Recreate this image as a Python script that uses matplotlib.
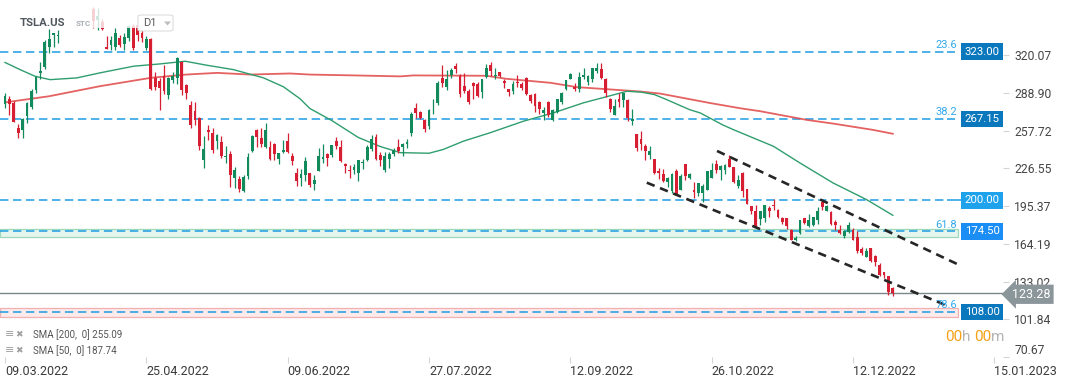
import matplotlib.pyplot as plt
from matplotlib.patches import Rectangle, FancyBboxPatch, Polygon

plt.rcParams['font.family'] = ['Roboto', 'DejaVu Sans']

# daily candles, 09.03.2022 .. 23.12.2022 (one entry per trading day)
opens = [
    # Mar
    280.0, 284.0, 280.5, 260.2, 258.4, 269.7, 277.0, 291.5, 305.0, 310.0, 326.6, 336.6, 336.0, 353.4, 367.5, 362.0, 363.5,
    # Apr
    360.4, 363.1, 380.5, 357.8, 349.4, 347.7, 326.8, 328.5, 327.0, 334.0, 329.2, 334.3, 344.0, 345.0, 338.4, 326.3, 333.0, 301.0, 299.0, 302.6,
    # May
    286.9, 299.8, 301.5, 314.0, 295.0, 279.0, 273.5, 268.0, 233.6, 257.8, 255.7, 249.0, 248.2, 235.5, 238.0, 218.3, 217.8, 208.0, 220.5, 241.1, 257.9,
    # Jun
    251.7, 244.2, 244.4, 246.4, 234.2, 240.1, 249.3, 236.7, 223.0, 218.2, 221.0, 222.7, 213.4, 224.4, 234.2, 238.0, 237.5, 249.4, 244.5, 230.5, 225.3,
    # Jul
    225.4, 223.0, 230.8, 233.3, 242.8, 252.1, 237.9, 225.3, 234.2, 238.6, 244.0, 244.0, 246.8, 255.6, 276.2, 272.8, 266.5, 261.2, 280.1, 280.9,
    # Aug
    301.3, 294.0, 304.0, 311.0, 302.7, 294.3, 290.7, 297.1, 296.4, 289.4, 301.8, 311.7, 303.0, 306.0, 299.0, 291.9, 290.7, 297.6, 296.5, 301.0, 286.8, 288.0, 281.0,
    # Sep
    272.6, 281.1, 266.2, 273.0, 281.0, 291.7, 300.5, 293.5, 292.4, 301.8, 298.0, 300.1, 306.9, 308.7, 300.4, 283.8, 271.0, 283.8, 282.7, 283.3, 265.4,
    # Oct
    255.0, 251.0, 245.2, 237.8, 234.5, 224.6, 221.8, 214.9, 207.5, 224.6, 208.9, 230.1, 218.5, 208.9, 206.1, 206.1, 208.9, 218.5, 230.4, 224.8, 225.4,
    # Nov
    234.2, 227.6, 211.6, 222.6, 209.4, 195.1, 191.0, 184.6, 185.4, 193.7, 196.4, 192.3, 185.4, 185.4, 175.8, 167.5, 173.0, 185.4, 178.5, 179.9, 184.0,
    # Dec
    198.4, 191.0, 190.1, 182.4, 175.8, 170.8, 173.9, 175.8, 170.0, 159.8, 153.2, 160.6, 154.3, 146.8, 140.8, 137.2, 127.5,
]
highs = [
    289.0, 286.0, 282.0, 263.0, 268.5, 281.0, 292.0, 302.6, 314.3, 332.6, 342.0, 338.2, 340.6, 366.3, 371.6, 368.3, 367.6,
    364.9, 383.3, 384.3, 359.7, 358.9, 349.5, 336.2, 336.0, 342.1, 337.0, 338.0, 345.0, 346.0, 348.0, 344.9, 336.2, 334.0, 306.0, 300.8, 311.7,
    302.0, 306.0, 318.5, 315.5, 296.0, 282.0, 281.0, 269.0, 253.2, 262.3, 259.6, 254.8, 253.2, 244.7, 240.5, 227.5, 219.9, 221.3, 239.6, 254.2, 259.2,
    259.5, 264.2, 248.8, 247.8, 239.6, 249.9, 255.5, 239.6, 226.7, 226.3, 235.7, 223.0, 220.9, 243.6, 246.8, 239.3, 246.0, 252.1, 249.9, 231.2, 229.5,
    230.2, 233.6, 234.6, 245.4, 254.4, 254.6, 239.8, 239.8, 240.3, 243.6, 250.5, 247.1, 250.7, 273.3, 280.8, 274.1, 267.3, 275.9, 284.2, 298.9,
    311.9, 307.5, 309.5, 313.6, 304.6, 305.2, 292.4, 297.5, 298.2, 300.2, 313.1, 314.7, 309.7, 306.5, 300.4, 292.4, 298.8, 303.6, 297.5, 302.0, 287.7, 288.5, 281.9,
    277.6, 282.3, 275.9, 283.8, 290.0, 299.9, 305.5, 297.4, 306.0, 309.1, 303.7, 309.8, 313.3, 313.8, 301.3, 284.5, 284.1, 288.7, 289.0, 283.7, 275.6,
    255.2, 257.5, 246.7, 244.6, 234.6, 226.9, 225.8, 219.3, 223.0, 226.3, 221.9, 230.5, 222.9, 215.6, 214.7, 213.5, 224.4, 230.6, 233.8, 228.9, 229.9,
    237.4, 227.9, 221.2, 223.8, 209.6, 195.6, 195.9, 191.0, 196.5, 195.7, 200.8, 192.6, 186.2, 185.7, 176.8, 170.9, 184.0, 185.6, 188.5, 186.4, 194.8,
    198.9, 196.3, 191.3, 183.7, 179.4, 175.2, 182.5, 177.4, 175.0, 161.6, 160.9, 161.0, 155.2, 148.5, 141.3, 137.5, 128.6,
]
lows = [
    276.0, 271.0, 264.5, 252.0, 252.0, 264.0, 275.5, 289.0, 300.0, 309.0, 321.6, 327.0, 330.3, 351.2, 357.7, 358.3, 358.7,
    355.4, 363.1, 361.5, 342.6, 340.5, 340.8, 324.9, 324.4, 324.4, 327.0, 324.6, 331.8, 324.3, 332.0, 331.3, 324.3, 291.6, 291.5, 275.0, 287.8,
    283.4, 296.7, 296.0, 287.0, 283.7, 260.0, 262.0, 242.0, 226.7, 249.8, 239.0, 242.9, 235.0, 231.0, 211.0, 210.0, 206.9, 206.9, 218.0, 240.0, 244.0,
    243.9, 243.3, 233.5, 233.3, 230.0, 239.0, 239.0, 229.0, 212.0, 212.2, 216.0, 211.0, 208.7, 224.0, 231.0, 228.4, 236.0, 242.6, 232.0, 222.3, 218.9,
    222.1, 216.2, 226.3, 232.2, 241.2, 233.6, 228.3, 223.8, 226.9, 236.9, 239.6, 236.5, 243.7, 253.5, 268.2, 267.4, 256.3, 258.9, 271.4, 278.6,
    293.7, 291.2, 301.0, 305.0, 285.5, 289.1, 279.4, 283.4, 285.8, 285.0, 301.0, 302.9, 300.0, 301.9, 292.5, 286.3, 287.9, 294.0, 291.6, 287.5, 280.7, 273.0, 271.8,
    266.1, 269.1, 265.7, 272.3, 279.8, 291.3, 300.4, 290.4, 289.3, 300.7, 295.6, 297.8, 305.6, 300.6, 285.8, 272.8, 270.3, 277.5, 277.6, 265.8, 262.5,
    241.0, 242.0, 233.3, 234.4, 222.0, 218.0, 215.0, 211.5, 206.2, 204.2, 208.5, 217.3, 217.8, 202.0, 203.8, 198.6, 208.5, 218.2, 222.9, 216.5, 221.9,
    227.3, 214.8, 210.1, 203.1, 196.7, 188.5, 177.1, 180.0, 182.6, 186.3, 192.1, 185.7, 180.9, 176.6, 167.5, 166.2, 172.5, 180.6, 178.0, 178.8, 180.6,
    191.8, 191.0, 179.8, 175.3, 172.2, 169.1, 173.4, 167.3, 156.9, 155.3, 153.0, 149.4, 145.8, 137.7, 135.9, 122.3, 121.0,
]
closes = [
    286.3, 279.4, 265.1, 255.5, 267.3, 280.1, 290.5, 301.8, 307.1, 331.3, 333.0, 338.0, 336.9, 363.9, 366.5, 364.7, 359.2,
    361.5, 381.8, 363.8, 348.6, 352.4, 341.8, 325.3, 332.5, 338.5, 328.3, 335.0, 344.0, 325.7, 336.3, 333.8, 333.0, 292.1, 293.8, 292.5, 290.3,
    301.0, 303.1, 317.5, 291.1, 288.6, 262.4, 266.7, 244.7, 242.7, 256.5, 241.5, 253.9, 236.6, 236.5, 221.3, 225.0, 209.4, 219.6, 235.9, 253.2, 252.8,
    246.8, 258.3, 234.5, 238.3, 238.9, 241.9, 239.7, 232.2, 215.7, 222.0, 233.0, 213.1, 216.8, 237.0, 236.1, 235.1, 245.7, 244.9, 232.7, 228.5, 224.5,
    227.3, 233.1, 231.7, 244.5, 250.8, 234.3, 233.1, 237.0, 238.3, 241.5, 240.5, 246.5, 248.5, 271.7, 272.2, 268.4, 258.9, 274.8, 280.9, 297.2,
    297.3, 300.6, 307.4, 308.6, 288.2, 290.4, 281.0, 294.4, 286.6, 300.0, 309.3, 306.6, 304.0, 302.9, 296.7, 289.9, 296.5, 297.1, 293.0, 288.1, 282.0, 277.7, 275.6,
    275.0, 270.2, 274.4, 283.4, 288.5, 299.7, 304.4, 292.1, 302.0, 303.8, 302.6, 309.1, 309.5, 300.8, 288.6, 275.3, 278.0, 281.1, 288.5, 268.2, 267.3,
    243.0, 247.0, 241.0, 240.6, 222.6, 222.6, 215.8, 218.5, 221.8, 204.9, 220.4, 219.9, 222.1, 206.6, 214.4, 212.2, 224.0, 225.4, 224.8, 228.7, 229.5,
    227.6, 215.5, 217.1, 207.5, 197.3, 191.0, 177.4, 191.0, 196.4, 191.0, 195.1, 186.3, 181.8, 178.5, 167.6, 168.9, 183.8, 181.3, 184.0, 186.0, 191.5,
    194.5, 195.6, 180.4, 179.4, 173.0, 174.4, 179.9, 167.5, 158.0, 156.5, 158.4, 149.6, 149.0, 138.6, 138.6, 124.0, 123.28,
]

# moving averages (candle index, value)
sma200_bars = [0, 10, 21.5, 33, 41, 48, 55.5, 64.5, 69, 79, 89.5, 92.5, 109, 113.5, 123.5, 129.5,
               136.3, 143.8, 148.3, 159.6, 166.4, 171, 181.6, 187.5, 196.5, 201]
sma200_vals = [281.0, 286.1, 294.4, 301.3, 304.0, 305.4, 304.0, 304.9, 304.0, 303.3, 302.5, 303.3, 303.0, 300.5, 297.2, 293.6,
               291.9, 290.0, 288.3, 280.5, 276.2, 273.7, 266.5, 263.5, 258.3, 255.09]
sma50_bars = [0, 3.4, 6.8, 10.2, 16.2, 21.5, 29.1, 35.1, 40.8, 45.7, 51.7, 58.5, 63, 66.8, 69, 74, 80, 85, 89.5, 96,
              99.2, 103.8, 109.8, 117.4, 124.2, 131, 137, 140.8, 144, 147, 149.8, 155, 157.4, 162.5, 164.9, 174, 180,
              187.5, 195.1, 201]
sma50_vals = [314.0, 308.1, 302.6, 299.8, 301.2, 305.4, 310.9, 312.8, 315.0, 311.7, 308.1, 301.3, 294.0, 284.0, 276.0,
              266.0, 252.0, 244.5, 239.5, 239.0, 242.1, 249.0, 255.9, 265.5, 272.4, 280.7, 286.5, 290.2, 289.5, 287.5,
              283.3, 275.0, 272.3, 262.4, 258.5, 244.7, 230.9, 214.4, 200.6, 187.74]

levels = [323.00, 267.15, 200.00, 174.50, 108.00]
level_tags = ["23.6", "38.2", "", "61.8", "78.6"]
green_zone = (169.4, 176.6)
red_zone = (103.7, 111.0)
last_price = 123.28

# channel lines (candle index, price)
upper_x, upper_y = [161.2, 215.5], [240.9, 147.6]
lower_x, lower_y = [145.3, 212.8], [214.7, 113.8]

date_bars = [0, 32, 64, 96, 128, 160, 192, 224]
date_labels = ["09.03.2022", "25.04.2022", "09.06.2022", "27.07.2022",
               "12.09.2022", "26.10.2022", "12.12.2022", "15.01.2023"]
price_ticks = [320.07, 288.90, 257.72, 226.55, 195.37, 164.19, 133.02, 101.84, 70.67]

# ---- layout ----
W, H = 1072, 382
BAR_PX = 4.417
X0_PX = 5
AX_RIGHT = 1003
AX_BOTTOM = 357


def bx(px):
    return (px - X0_PX) / BAR_PX


def fx(px):
    return px / W


def fy(py):
    return 1 - py / H


fig = plt.figure(figsize=(W / 100, H / 100), dpi=100)
ax = fig.add_axes([0, 1 - AX_BOTTOM / H, AX_RIGHT / W, AX_BOTTOM / H])
ax.set_xlim(bx(0), bx(AX_RIGHT))
ax.set_ylim(70.7, 365.6)
for s in ax.spines.values():
    s.set_visible(False)

BLUE = '#1d9de3'
dash = (0, (5.5, 3.0))

# zones
ax.add_patch(Rectangle((bx(0), green_zone[0]), bx(958) - bx(0), green_zone[1] - green_zone[0],
                       fc='#e5f6ee', ec='#9dd8ba', lw=0.9, zorder=1))
ax.add_patch(Rectangle((bx(0), red_zone[0]), bx(958) - bx(0), red_zone[1] - red_zone[0],
                       fc='#fdeaea', ec='#f3b0b0', lw=0.9, zorder=1))

box_colors = ['#0b78bd', '#0b78bd', '#1fa2ec', '#1b8ef5', '#0b78bd']
for lvl, tag, bc in zip(levels, level_tags, box_colors):
    ax.hlines(lvl, bx(0), bx(945), colors=BLUE, lw=1.1, linestyles=dash, zorder=2)
    seg_end = 961 if not tag else 955
    ax.hlines(lvl, bx(947), bx(seg_end), colors=BLUE, lw=1.1, zorder=2)
    if tag:
        ax.text(bx(957), lvl + 1.4, tag, ha='right', va='bottom', fontsize=8, color='#34a9ec', zorder=7)
    ax.text(999.5 / AX_RIGHT, lvl, f"{lvl:.2f}", transform=ax.get_yaxis_transform(),
            ha='right', va='center', fontsize=8.2, color='white', zorder=8,
            bbox=dict(boxstyle='square,pad=0.28', fc=bc, ec='none'))

# moving averages
ax.plot(sma200_bars, sma200_vals, color='#e04646', lw=1.3, alpha=0.85, zorder=3)
ax.plot(sma50_bars, sma50_vals, color='#2f9e6e', lw=1.0, zorder=3)

# last price line
ax.axhline(last_price, color='#7b868b', lw=1.0, zorder=3)

# candles
UP, DOWN = '#138a5b', '#d71f33'
idx = list(range(len(closes)))
colors = [UP if c >= o else DOWN for o, c in zip(opens, closes)]
ax.vlines(idx, lows, highs, colors=colors, lw=0.9, zorder=4)
bottoms = [min(o, c) for o, c in zip(opens, closes)]
heights = [max(abs(c - o), 0.7) for o, c in zip(opens, closes)]
ax.bar(idx, heights, bottom=bottoms, width=0.64, color=colors, lw=0, zorder=5)

# channel
ax.plot(upper_x, upper_y, color='#262626', lw=1.9, linestyle=(0, (3.2, 2.2)), zorder=6)
ax.plot(lower_x, lower_y, color='#262626', lw=1.9, linestyle=(0, (3.2, 2.2)), zorder=6)

# axes ticks
ax.yaxis.tick_right()
ax.set_yticks(price_ticks)
ax.set_yticklabels([f"{v:.2f}" for v in price_ticks])
ax.tick_params(axis='y', length=4, width=0.8, color='#d5d5d5', labelsize=8.7, labelcolor='#454545', pad=4)
ax.get_yticklabels()[-1].set_va('bottom')
ax.set_xticks(date_bars)
ax.set_xticklabels(date_labels, ha='left')
ax.tick_params(axis='x', length=4, width=0.8, color='#d5d5d5', labelsize=9, labelcolor='#3a3a3a', pad=2)

# last price tag (drawn over the neighbouring tick label, as in the platform)
ax.text(1012 / AX_RIGHT, last_price - 0.8, f"{last_price:.2f}", transform=ax.get_yaxis_transform(),
        ha='left', va='center', fontsize=9, color='white', zorder=8, clip_on=False,
        bbox=dict(boxstyle='larrow,pad=0.25', fc='#8b969b', ec='none'))

# header
fig.add_artist(Rectangle((0, fy(28)), fx(92), 28 / H, transform=fig.transFigure, fc='white', ec='none', zorder=1))
fig.add_artist(Rectangle((fx(92), fy(28)), fx(88), 28 / H, transform=fig.transFigure, fc='white', ec='none',
                         alpha=0.8, zorder=1))
fig.text(fx(20), fy(23), "TSLA.US", fontsize=8.2, fontweight='bold', color='#50575e', va='center', zorder=3)
fig.text(fx(76), fy(23.5), "STC", fontsize=5.8, fontweight='bold', color='#a9afb5', va='center', zorder=3)
fig.add_artist(FancyBboxPatch((fx(138), fy(31)), fx(35), 16 / H, boxstyle='round,pad=0,rounding_size=0.004',
                              transform=fig.transFigure, fc='white', ec='#dddddd', lw=0.8, zorder=2))
fig.text(fx(143), fy(23), "D1", fontsize=8, color='#5c5c5c', va='center', zorder=3)
fig.add_artist(Polygon([(fx(164), fy(21.5)), (fx(171), fy(21.5)), (fx(167.5), fy(25.5))],
                       closed=True, transform=fig.transFigure, fc='#bdbdbd', ec='none', zorder=3))

# indicator legend
legend_rows = [("SMA [200,  0]", sma200_vals[-1]), ("SMA [50,  0]", sma50_vals[-1])]
for k, (name, val) in enumerate(legend_rows):
    yy = 334.5 + 16 * k
    fig.text(fx(5), fy(yy), "≡", fontsize=8, color='#a0a0a0', va='center')
    fig.text(fx(15), fy(yy), "✖", fontsize=6.5, color='#a0a0a0', va='center')
    fig.text(fx(33), fy(yy), f"{name} {val:.2f}", fontsize=7, color='#555555', va='center')

# candle countdown
fig.text(fx(945), fy(337), "00", fontsize=11, color='#f6a11a', va='center')
fig.text(fx(962), fy(337), "h", fontsize=11, color='#b5b5b5', va='center')
fig.text(fx(974), fy(337), "00", fontsize=11, color='#f6a11a', va='center')
fig.text(fx(991), fy(337), "m", fontsize=11, color='#b5b5b5', va='center')

fig.savefig("out.png", dpi=100)
